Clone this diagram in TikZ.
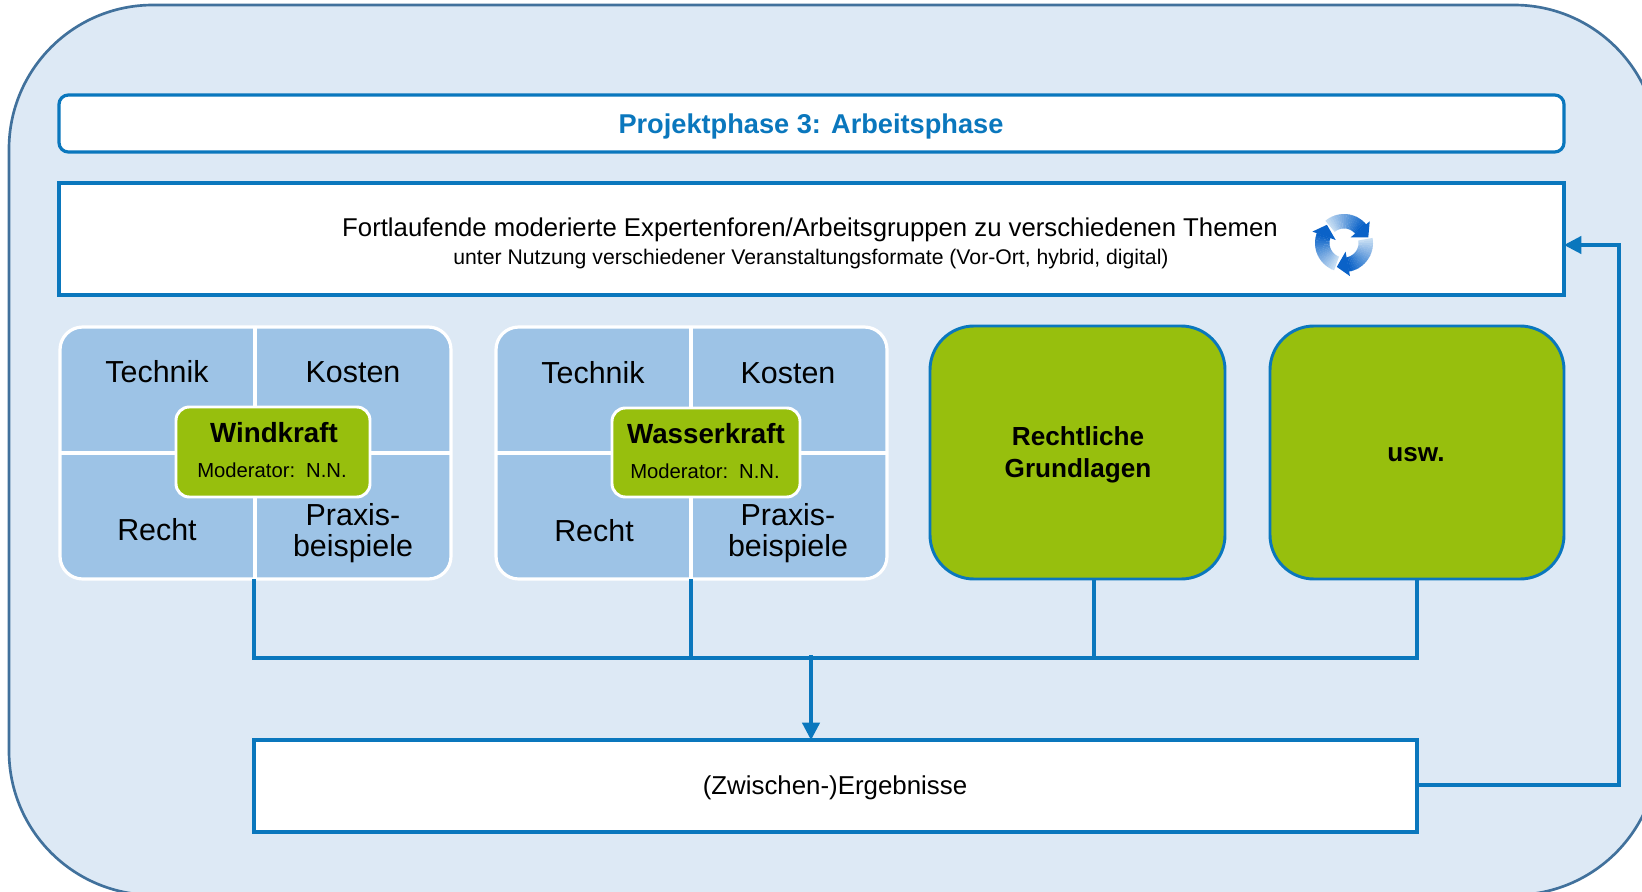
\documentclass[tikz,border=0pt]{standalone}
\usepackage{fontspec}
\setmainfont{Liberation Sans}
\usetikzlibrary{arrows.meta,calc}
\definecolor{panel}{HTML}{DDE9F5}
\definecolor{panelline}{HTML}{41719C}
\definecolor{lineblue}{HTML}{0A77BD}
\definecolor{cell}{HTML}{9DC3E6}
\definecolor{leaf}{HTML}{97BF0D}
\definecolor{title}{HTML}{0A77BD}
\definecolor{iconblue}{HTML}{0A62C8}
\definecolor{iconlight}{HTML}{C6DDF3}
\newcommand{\fs}[1]{\fontsize{#1}{23.6pt}\selectfont}
\tikzset{
  x=0.75pt,y=-0.75pt,
  whitebox/.style={draw=lineblue,line width=2.4pt,fill=white,inner sep=0pt,outer sep=0pt,anchor=north west},
  greenbox/.style={draw=lineblue,line width=2.2pt,fill=leaf,rounded corners=33pt,inner sep=0pt,outer sep=0pt,anchor=north west},
  wire/.style={draw=lineblue,line width=2.4pt},
  hub/.style={draw=white,line width=2.2pt,fill=leaf,rounded corners=10pt},
  txt/.style={inner sep=0pt,align=center,text=black},
  tip/.style={-{Triangle[length=13pt,width=13pt]}}
}
\begin{document}
\begin{tikzpicture}
\useasboundingbox (0,0) rectangle (1642,892);
\begin{scope}
\clip (0,0) rectangle (1642,892);
\draw[draw=panelline,line width=2pt,fill=panel,rounded corners=108pt] (9,5) rectangle (1658,895);
\end{scope}
% title
\node[whitebox,rounded corners=7pt,minimum width=1505*0.75pt,minimum height=57*0.75pt] (tbox) at (59,95) {};
\node[txt,text=title,font=\fs{20.4}\bfseries] (t) at (811,126) {Projektphase 3: Arbeitsphase};
% forum
\node[whitebox,minimum width=1505*0.75pt,minimum height=112*0.75pt] (forum) at (59,183) {};
\node[txt,font=\fs{19.3}] (f1) at (810,230) {Fortlaufende moderierte Expertenforen/Arbeitsgruppen zu verschiedenen Themen};
\node[txt,font=\fs{15.9}] (f2) at (811,259) {unter Nutzung verschiedener Veranstaltungsformate (Vor-Ort, hybrid, digital)};
% icon
\begin{scope}[shift={(1344,243)}]
\foreach \a in {0,120,240}{
 \begin{scope}[rotate=\a]
  \foreach \i in {0,...,17}{
    \pgfmathsetmacro{\ta}{-130+5*\i}
    \pgfmathsetmacro{\tb}{-130+5*\i+5.6}
    \pgfmathsetmacro{\mx}{\i*100/17}
    \fill[iconblue!\mx!iconlight] (\ta:29) -- (\tb:29) -- (\tb:14.5) -- (\ta:14.5) -- cycle;
  }
  \fill[iconblue] (25.7,-21.7) -- (24.3,-5.7) -- (6.7,-5.7) -- cycle;
 \end{scope}
}
\end{scope}
% Wind group
\fill[cell,rounded corners=17pt] (60,327) rectangle (451,579);
\draw[draw=white,line width=2.4pt,rounded corners=17pt] (60,327) rectangle (451,579);
\draw[white,line width=2.4pt] (255,327) -- (255,579) (60,453) -- (451,453);
\node[txt,font=\fs{22.8}] at (157,372) {Technik};
\node[txt,font=\fs{22.8}] at (353,372) {Kosten};
\node[txt,font=\fs{22.8}] at (157,530) {Recht};
\node[txt,font=\fs{22.8}] at (353,533) {Praxis-\\beispiele};
\draw[hub] (176,407) rectangle (370,497);
\node[txt,font=\fs{20.8}\bfseries] at (274,433) {Windkraft};
\node[txt,font=\fs{15.2}] at (272,470) {Moderator:\, N.N.};
% Wasser group
\fill[cell,rounded corners=17pt] (496,327) rectangle (887,579);
\draw[draw=white,line width=2.4pt,rounded corners=17pt] (496,327) rectangle (887,579);
\draw[white,line width=2.4pt] (691,327) -- (691,579) (496,453) -- (887,453);
\node[txt,font=\fs{22.8}] at (593,373) {Technik};
\node[txt,font=\fs{22.8}] at (788,373) {Kosten};
\node[txt,font=\fs{22.8}] at (594,531) {Recht};
\node[txt,font=\fs{22.8}] at (788,533) {Praxis-\\beispiele};
\draw[hub] (612,408) rectangle (800,497);
\node[txt,font=\fs{20.8}\bfseries] at (706,434) {Wasserkraft};
\node[txt,font=\fs{15.2}] at (705,471) {Moderator:\, N.N.};
% green boxes
\node[greenbox,minimum width=295*0.75pt,minimum height=253*0.75pt] (recht) at (930,326) {};
\node[txt,font=\fs{19.6}\bfseries] at (1078,455) {Rechtliche\\Grundlagen};
\node[greenbox,minimum width=294*0.75pt,minimum height=253*0.75pt] (usw) at (1270,326) {};
\node[txt,font=\fs{19.6}\bfseries] at (1416,455) {usw.};
% result
\node[whitebox,minimum width=1163*0.75pt,minimum height=92*0.75pt] (res) at (254,740) {};
\node[txt,font=\fs{19.4}] at (835,788) {(Zwischen-)Ergebnisse};
% wires
\coordinate (bus) at (811,658);
\coordinate (busstart) at (811,655);
\coordinate (w1) at (254,579);
\coordinate (w2) at (691,579);
\coordinate (w3) at (1094,579);
\coordinate (w4) at (1417,579);
\draw[wire] (w1) |- (w4 |- bus) -- (w4);
\draw[wire] (w2) -- (w2 |- bus);
\draw[wire] (w3) -- (w3 |- bus);
\draw[wire,tip] (busstart) -- (busstart |- res.north);
\coordinate (ret) at (1619,245);
\draw[wire,tip] (res.east |- 0,785) -| (ret) -- (forum.east |- ret);
\end{tikzpicture}
\end{document}
